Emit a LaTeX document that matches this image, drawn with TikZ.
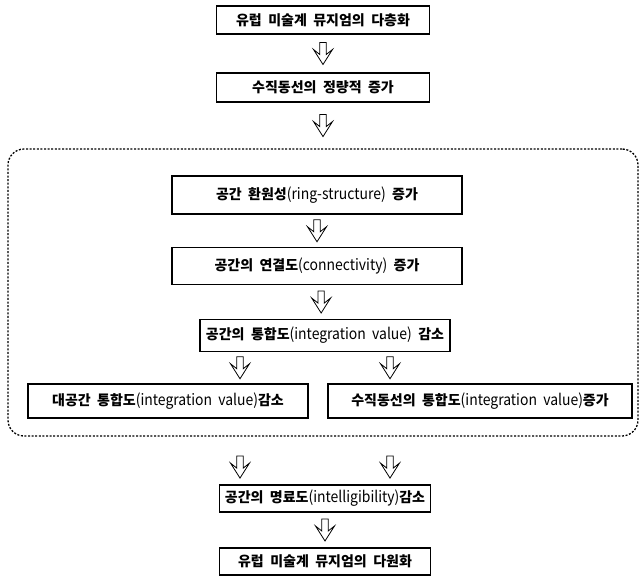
\documentclass[tikz,border=0pt]{standalone}
\usepackage{fontspec}
\setmainfont{Noto Sans CJK KR}[WordSpace=2]
\newfontfamily\latf{Noto Sans CJK KR}[FakeStretch=0.9,WordSpace=2]
\begin{document}
\begin{tikzpicture}[x=1pt,y=-1pt,
  box/.style={draw, line width=1.6pt, inner sep=0pt, font=\fontsize{14}{16}\selectfont\bfseries},
  frame/.style={draw, line width=1.3pt, dash pattern=on 2pt off 1.6pt, rounded corners=16pt, inner sep=0pt},
  harrow/.pic={\draw[line width=0.8pt, fill=white, line join=miter]
     (-3.2,-11) -- (3.2,-11) -- (3.2,1) -- (9.5,-4) -- (0,11) -- (-9.5,-4) -- (-3.2,1) -- cycle;},
]
\useasboundingbox (0,0) rectangle (640,581);
\newcommand{\lt}[1]{{\latf\mdseries\fontsize{15.5}{16}\selectfont #1}}

\node[box, minimum width=213pt, minimum height=28pt] (n1) at (323,20) {유럽 미술계 뮤지엄의 다층화};
\node[box, minimum width=213pt, minimum height=29pt] (n2) at (323,87.5) {수직동선의 정량적 증가};
\node[frame, minimum width=630pt, minimum height=287pt] (fr) at (323,292.5) {};
\node[box, minimum width=290pt, minimum height=38pt] (n3) at (317,195) {공간 환원성\lt{(ring-structure)} 증가};
\node[box, minimum width=290pt, minimum height=37pt] (n4) at (317,266) {공간의 연결도\lt{(connectivity)} 증가};
\node[box, minimum width=250pt, minimum height=32pt] (n5) at (325,335.5) {공간의 통합도\lt{(integration value)} 감소};
\node[box, minimum width=280pt, minimum height=34pt] (n6) at (168,401) {대공간 통합도\lt{(integration value)}감소};
\node[box, minimum width=304pt, minimum height=34pt] (n7) at (480,401) {수직동선의 통합도\lt{(integration value)}증가};
\node[box, minimum width=211pt, minimum height=27pt] (n8) at (325,498.5) {공간의 명료도\lt{(intelligibility)}감소};
\node[box, minimum width=211pt, minimum height=27pt] (n9) at (325,561.5) {유럽 미술계 뮤지엄의 다원화};

\coordinate (xl) at (240,0);
\coordinate (xr) at (390,0);

\path (n1) -- pic[pos=0.5]{harrow} (n2);
\path (n2.south) -- pic[pos=0.5]{harrow} (fr.north);
\path (n3) -- pic[pos=0.5]{harrow} (n4);
\path (n4) -- pic[pos=0.5]{harrow} (n5);
\path (n5.south -| xl) -- pic[pos=0.5]{harrow} (n6.north -| xl);
\path (n5.south -| xr) -- pic[pos=0.5]{harrow} (n7.north -| xr);
\path (fr.south -| xl) -- pic[pos=0.64]{harrow} (n8.north -| xl);
\path (fr.south -| xr) -- pic[pos=0.64]{harrow} (n8.north -| xr);
\path (n8) -- pic[pos=0.5]{harrow} (n9);
\end{tikzpicture}
\end{document}
